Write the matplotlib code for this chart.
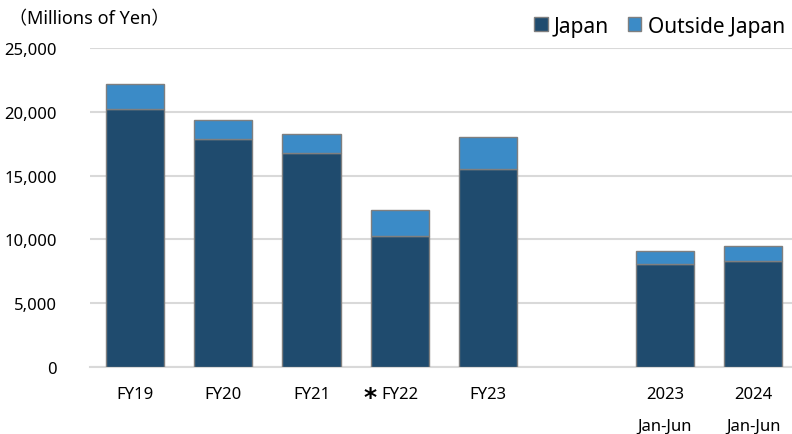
import matplotlib
matplotlib.use("Agg")
import matplotlib.pyplot as plt
from matplotlib.patches import Patch
from matplotlib.transforms import blended_transform_factory

plt.rcParams['font.family'] = ['Noto Sans', 'Noto Sans CJK JP', 'DejaVu Sans']

categories = ["FY19", "FY20", "FY21", "FY22", "FY23", "", "2023\nJan-Jun", "2024\nJan-Jun"]
japan = [20220, 17870, 16770, 10270, 15520, None, 8070, 8300]
outside = [1960, 1490, 1490, 2030, 2500, None, 1020, 1180]
y_ticks = [0, 5000, 10000, 15000, 20000, 25000]

c_japan = "#1F4B6E"
c_out = "#3B8BC7"
edge = "#7F7F7F"

fig = plt.figure(figsize=(7.92, 4.35), dpi=100)
ax = fig.add_axes([90/792, 67/435, 702/792, 319/435])

idx = [i for i, v in enumerate(japan) if v is not None]
jv = [japan[i] for i in idx]
ov = [outside[i] for i in idx]
ax.bar(idx, jv, width=0.66, color=c_japan, edgecolor=edge, linewidth=1.0, zorder=3)
ax.bar(idx, ov, bottom=jv, width=0.66, color=c_out, edgecolor=edge, linewidth=1.0, zorder=3)

ax.set_xlim(-0.51, 7.44)
ax.set_ylim(0, 25000)
ax.set_yticks(y_ticks)
ax.set_yticklabels([f"{v:,}" for v in y_ticks], fontsize=12)
ax.yaxis.grid(True, color="#D9D9D9", linewidth=1.5, zorder=0)
ax.set_axisbelow(True)
for s in ["left", "right", "top"]:
    ax.spines[s].set_visible(False)
ax.spines["bottom"].set_color("#D9D9D9")
ax.spines["bottom"].set_linewidth(1.5)
ax.tick_params(axis="y", length=0, pad=24, labelsize=12)
ax.tick_params(axis="x", length=0, pad=14, labelsize=12)
ax.set_xticks(range(len(categories)))
ax.set_xticklabels(categories)
for lab in ax.get_xticklabels():
    lab.set_linespacing(2.25)

trans = blended_transform_factory(ax.transData, ax.transAxes)
ax.text(3 - 0.34, -0.055, "*", transform=trans, fontsize=18, fontweight="bold",
        ha="center", va="top", family="DejaVu Sans")

fig.text(9/792, 1 - 19/435, "（Millions of Yen）", fontsize=13, ha="left", va="center")

handles = [Patch(facecolor=c_japan, edgecolor=edge, label="Japan"),
           Patch(facecolor=c_out, edgecolor=edge, label="Outside Japan")]
fig.legend(handles=handles, loc="center right", bbox_to_anchor=(789/792, 1 - 27/435),
           ncol=2, frameon=False, fontsize=15, handlelength=0.65, handleheight=0.65,
           handletextpad=0.3, columnspacing=0.9, borderaxespad=0, borderpad=0.2)

fig.savefig("out.png", dpi=100)
